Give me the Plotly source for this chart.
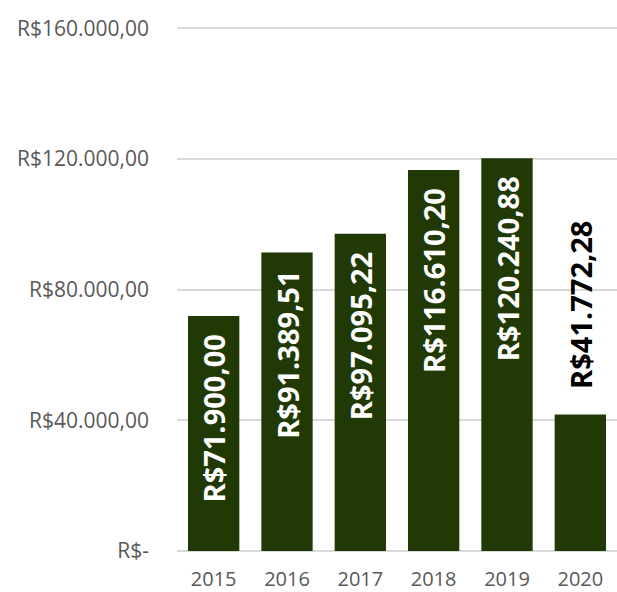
import plotly.graph_objects as go

years = ["2015", "2016", "2017", "2018", "2019", "2020"]
values = [71900.00, 91389.51, 97095.22, 116610.20, 120240.88, 41772.28]
label_pos = ["inside", "inside", "inside", "inside", "inside", "outside"]
y_tick_vals = [0, 40000, 80000, 120000, 160000]
y_tick_text = ["R$-", "R$40.000,00", "R$80.000,00", "R$120.000,00", "R$160.000,00"]


def brl(v):
    s = f"{v:,.2f}"
    s = s.replace(",", "X").replace(".", ",").replace("X", ".")
    return "R$" + s


NB = "\u00a0"
texts = []
for v, p in zip(values, label_pos):
    if p == "inside":
        texts.append(brl(v) + NB * 2)
    else:
        texts.append(NB * 3 + brl(v))

fig = go.Figure(
    go.Bar(
        x=years,
        y=values,
        text=texts,
        textposition=label_pos,
        textangle=-90,
        insidetextanchor="end",
        constraintext="none",
        cliponaxis=False,
        marker=dict(color="#203905", line=dict(width=0)),
        insidetextfont=dict(family="Open Sans", size=29, color="white", weight="bold"),
        outsidetextfont=dict(family="Open Sans", size=29, color="black", weight="bold"),
        hoverinfo="skip",
    )
)

fig.update_layout(
    width=617,
    height=592,
    margin=dict(l=177, r=0, t=26, b=41, autoexpand=False),
    plot_bgcolor="white",
    paper_bgcolor="white",
    bargap=0.3,
    showlegend=False,
    font=dict(family="Open Sans", color="#595959"),
)
fig.update_xaxes(
    showgrid=False,
    showline=False,
    ticks="",
    tickfont=dict(size=20, color="#595959"),
    ticklabelstandoff=14,
    automargin=False,
)
fig.update_yaxes(
    range=[0, 160700],
    tickvals=y_tick_vals,
    ticktext=y_tick_text,
    showgrid=True,
    gridcolor="#d9d9d9",
    gridwidth=1.5,
    zeroline=True,
    zerolinecolor="#d9d9d9",
    zerolinewidth=1.5,
    showline=False,
    ticks="",
    tickfont=dict(size=21, color="#595959"),
    ticklabelstandoff=27,
    automargin=False,
)

fig.write_html(
    "out.html",
    config={"displayModeBar": False},
    post_script="document.body.style.margin='0';document.body.style.overflow='hidden';",
)
